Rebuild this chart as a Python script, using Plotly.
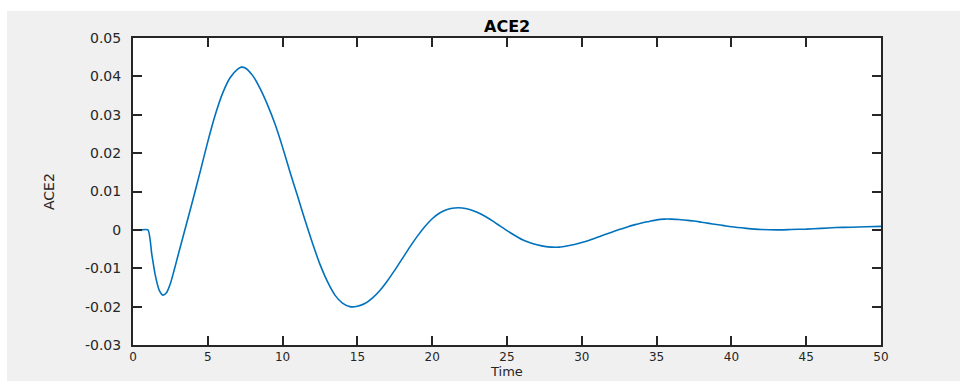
import plotly.graph_objects as go

# Sampled response of ACE2 over time
time = [0, 0.5, 1.0, 1.25, 1.5, 1.75, 2.0, 2.25, 2.5, 2.75, 3.0, 3.5, 4.0, 4.5,
        5.0, 5.5, 6.0, 6.5, 7.0, 7.25, 7.5, 8.0, 8.5, 9.0, 9.5, 10.0, 10.5,
        11.0, 11.5, 12.0, 12.5, 13.0, 13.5, 14.0, 14.5, 15.0, 15.5, 16.0, 16.5,
        17.0, 17.5, 18.0, 18.5, 19.0, 19.5, 20.0, 20.5, 21.0, 21.5, 22.0, 22.5,
        23.0, 23.5, 24.0, 24.5, 25.0, 25.5, 26.0, 26.5, 27.0, 27.5, 28.0, 28.5,
        29.0, 29.5, 30.0, 30.5, 31.0, 31.5, 32.0, 32.5, 33.0, 33.5, 34.0, 34.5,
        35.0, 35.5, 36.0, 36.5, 37.0, 37.5, 38.0, 38.5, 39.0, 39.5, 40.0, 41.0,
        42.0, 43.0, 44.0, 45.0, 46.0, 47.0, 48.0, 49.0, 50.0]
ace2 = [0, 0, 0, -0.0062, -0.0120, -0.0157, -0.0170, -0.0163, -0.0140,
        -0.0105, -0.0068, 0.0005, 0.0078, 0.0153, 0.0230, 0.0300, 0.0357,
        0.0397, 0.0419, 0.0424, 0.0422, 0.0402, 0.0368, 0.0325, 0.0275,
        0.0215, 0.0150, 0.0088, 0.0025, -0.0035, -0.0090, -0.0135, -0.0170,
        -0.0191, -0.0200, -0.0199, -0.0192, -0.0178, -0.0158, -0.0133,
        -0.0105, -0.0075, -0.0045, -0.0017, 0.0008, 0.0029, 0.0044, 0.0053,
        0.0057, 0.0057, 0.0053, 0.0046, 0.0036, 0.0024, 0.0011, -0.0002,
        -0.0014, -0.0025, -0.0033, -0.0039, -0.0043, -0.0045, -0.0045,
        -0.0042, -0.0038, -0.0033, -0.0027, -0.0020, -0.0013, -0.0006, 0.0001,
        0.0007, 0.0013, 0.0018, 0.0022, 0.0026, 0.0028, 0.0028, 0.0027,
        0.0025, 0.0023, 0.0020, 0.0017, 0.0014, 0.0011, 0.0008, 0.0004,
        0.0001, 0.0000, 0.0001, 0.0002, 0.0004, 0.0006, 0.0007, 0.0008, 0.0009]

x_ticks = [0, 5, 10, 15, 20, 25, 30, 35, 40, 45, 50]
y_ticks = [-0.03, -0.02, -0.01, 0, 0.01, 0.02, 0.03, 0.04, 0.05]
y_tick_text = ["-0.03", "-0.02", "-0.01", "0", "0.01", "0.02", "0.03", "0.04", "0.05"]

INK = "#262626"
FONT = "DejaVu Sans"

fig = go.Figure()
fig.add_trace(go.Scatter(
    x=time, y=ace2, mode="lines",
    line=dict(color="#0072BD", width=1.6, shape="spline", smoothing=0.6),
    hoverinfo="x+y", showlegend=False,
))

axis_common = dict(
    showline=True, linecolor=INK, linewidth=2, mirror="ticks",
    ticks="inside", ticklen=9, tickwidth=1.5, tickcolor=INK,
    showgrid=False, zeroline=False,
)

fig.update_xaxes(range=[0, 50], tickvals=x_ticks, ticklabelstandoff=0,
                 tickfont=dict(family=FONT, size=12, color=INK), **axis_common)
fig.update_yaxes(range=[-0.03, 0.05], tickvals=y_ticks, ticktext=y_tick_text,
                 ticklabelstandoff=7,
                 tickfont=dict(family=FONT, size=14, color=INK), **axis_common)

W, H = 960, 381
L, R, T, B = 133, 79, 38, 36
pw, ph = W - L - R, H - T - B

def px_x(p):
    return (p - L) / pw

def px_y(p):
    return (H - B - p) / ph

fig.update_layout(
    width=W, height=H,
    margin=dict(l=L, r=R, t=T, b=B, pad=0),
    paper_bgcolor="#F0F0F0", plot_bgcolor="white",
    shapes=[
        # white border strips around the grey figure
        dict(type="rect", xref="paper", yref="paper", layer="below",
             x0=px_x(0), x1=px_x(W), y0=px_y(11), y1=px_y(0),
             fillcolor="white", line=dict(width=0)),
        dict(type="rect", xref="paper", yref="paper", layer="below",
             x0=px_x(0), x1=px_x(7), y0=px_y(H), y1=px_y(0),
             fillcolor="white", line=dict(width=0)),
    ],
    annotations=[
        dict(text="<b>ACE2</b>", xref="paper", yref="paper",
             x=px_x(507), y=px_y(27), showarrow=False,
             xanchor="center", yanchor="middle",
             font=dict(family=FONT, size=16, color="black")),
        dict(text="Time", xref="paper", yref="paper",
             x=px_x(506), y=px_y(381), showarrow=False,
             xanchor="center", yanchor="bottom",
             font=dict(family=FONT, size=13, color=INK)),
        dict(text="ACE2", xref="paper", yref="paper", textangle=-90,
             x=px_x(49), y=px_y(192), showarrow=False,
             xanchor="center", yanchor="middle",
             font=dict(family=FONT, size=14, color=INK)),
    ],
)

fig.write_html("out.html")
